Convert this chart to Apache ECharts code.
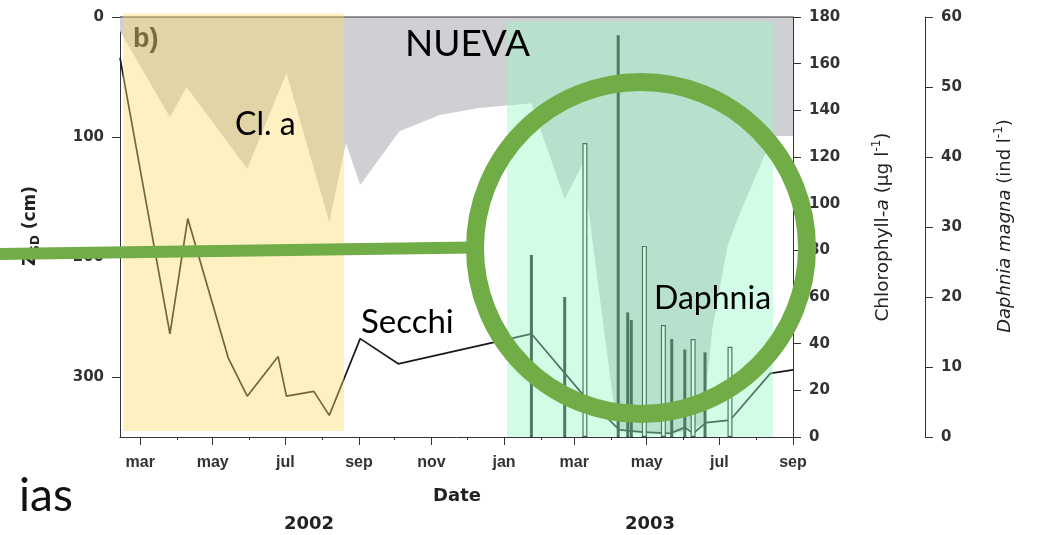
<!DOCTYPE html>
<html><head><meta charset="utf-8">
<script src="https://cdn.jsdelivr.net/npm/echarts@6/dist/echarts.min.js"></script>
<style>html,body{margin:0;padding:0;background:#fff}#c{width:1043px;height:535px}</style>
</head><body><div id="c"></div>
<script>
// ---- data ----
const secchiDates = ['2002-02-12','2002-03-26','2002-04-10','2002-05-14','2002-05-30','2002-06-25','2002-07-02','2002-07-25','2002-08-07','2002-09-02','2002-10-04','2003-01-24','2003-03-06','2003-04-08','2003-04-28','2003-05-21','2003-06-02','2003-06-09','2003-06-20','2003-07-10','2003-08-13','2003-09-01'];
const secchiDepth = [34,264,168,284,316,283,316,312,332,268,289,264,312,344,346,347,342,347,338,336,297,294];
const chlDates = ['2002-02-12','2002-03-26','2002-04-09','2002-05-30','2002-07-02','2002-08-07','2002-08-21','2002-09-02','2002-10-05','2002-11-08','2002-12-11','2003-01-24','2003-02-21','2003-03-08','2003-04-06','2003-04-25','2003-05-29','2003-06-17','2003-06-25','2003-07-08','2003-07-16','2003-08-10','2003-08-16','2003-09-01'];
const chlValues = [174,137,150,115,156,92,126,108,131,138,141,143,102,117,3,2,2,5,46,82,93,123,129,129];
const daphSolidDates = ['2003-01-24','2003-02-21','2003-04-07','2003-04-15','2003-04-18','2003-05-22','2003-06-02','2003-06-19'];
const daphSolidValues = [26,20,57.4,17.8,16.7,14,12.5,12.1];
const daphHollowDates = ['2003-03-10','2003-04-29','2003-05-15','2003-06-09','2003-07-10'];
const daphHollowValues = [42,27.3,16,14,12.9];
const monthTickDates = ['2002-03-01','2002-05-01','2002-07-01','2002-09-01','2002-11-01','2003-01-01','2003-03-01','2003-05-01','2003-07-01','2003-09-01'];
const monthTickLabels = ['mar','may','jul','sep','nov','jan','mar','may','jul','sep'];
const minorTickDates = ['2002-04-01','2002-06-01','2002-08-01','2002-10-01','2002-12-01','2003-02-01','2003-04-01','2003-06-01','2003-08-01'];
const depthTicks = [0,100,200,300];
const xMin = '2002-02-12', xMax = '2003-09-01';

const t = s => Date.parse(s);
const pairs = (d, v) => d.map((s, i) => [t(s), v[i]]);
const majorTs = monthTickDates.map(t);
const minorTs = minorTickDates.map(t);

const AX = '#333';
const yLbl = {fontFamily: 'DejaVu Sans', fontWeight: 'bold', fontSize: 15, color: '#333'};
const xLbl = {fontFamily: 'Liberation Sans', fontWeight: 'bold', fontSize: 16, color: '#333'};
const GREEN = '#70AD47';

const chart = echarts.init(document.getElementById('c'), null, {renderer: 'canvas'});
chart.setOption({
  animation: false,
  backgroundColor: '#fff',
  grid: {left: 120, right: 250, top: 17, bottom: 98, show: false},
  xAxis: [
    {type: 'value', min: t(xMin), max: t(xMax), position: 'bottom',
     axisLine: {show: true, onZero: false, lineStyle: {color: AX, width: 1}},
     axisTick: {show: true, customValues: majorTs, length: 8, lineStyle: {color: AX}},
     axisLabel: Object.assign({show: true, customValues: majorTs, margin: 18,
       formatter: v => monthTickLabels[majorTs.indexOf(v)] || ''}, xLbl),
     splitLine: {show: false}},
    {type: 'value', min: t(xMin), max: t(xMax), position: 'bottom',
     axisLine: {show: false, onZero: false},
     axisTick: {show: true, customValues: minorTs, length: 3, lineStyle: {color: AX}},
     axisLabel: {show: false}, splitLine: {show: false}}
  ],
  yAxis: [
    {type: 'value', inverse: true, min: 0, max: 350, position: 'left',
     axisLine: {show: true, onZero: false, lineStyle: {color: AX}},
     axisTick: {show: true, customValues: depthTicks, length: 8, lineStyle: {color: AX}},
     axisLabel: Object.assign({customValues: depthTicks, margin: 16}, yLbl),
     splitLine: {show: false}},
    {type: 'value', min: 0, max: 180, interval: 20, position: 'right',
     axisLine: {show: true, onZero: false, lineStyle: {color: AX}},
     axisTick: {show: true, length: 8, lineStyle: {color: AX}},
     axisLabel: Object.assign({margin: 16}, yLbl),
     splitLine: {show: false}},
    {type: 'value', min: 0, max: 60, interval: 10, position: 'right', offset: 132,
     axisLine: {show: true, onZero: false, lineStyle: {color: AX}},
     axisTick: {show: true, length: 8, lineStyle: {color: AX}},
     axisLabel: Object.assign({margin: 16}, yLbl),
     splitLine: {show: false}}
  ],
  series: [
    {type: 'line', xAxisIndex: 0, yAxisIndex: 1, data: pairs(chlDates, chlValues),
     symbol: 'none', lineStyle: {width: 0, opacity: 0},
     areaStyle: {color: '#cfd0d3', opacity: 1, origin: 'end'}, z: 1, silent: true},
    {type: 'line', xAxisIndex: 0, yAxisIndex: 0, data: pairs(secchiDates, secchiDepth),
     symbol: 'none', lineStyle: {color: '#1a1a1a', width: 1.7}, z: 3},
    {type: 'bar', xAxisIndex: 0, yAxisIndex: 2, data: pairs(daphSolidDates, daphSolidValues),
     barWidth: 3, itemStyle: {color: '#16221d'}, z: 4},
    {type: 'bar', xAxisIndex: 1, yAxisIndex: 2, data: pairs(daphHollowDates, daphHollowValues),
     barWidth: 5, itemStyle: {color: '#ffffff', borderColor: '#16221d', borderWidth: 1.2}, z: 4}
  ],
  graphic: [
    {type: 'line', z: 90, shape: {x1: 120, y1: 17, x2: 793, y2: 17}, style: {stroke: AX, lineWidth: 1}},
    {type: 'text', z: 91, x: 133, y: 40, style: {text: 'b)', fontFamily: 'Liberation Sans', fontWeight: 'bold', fontSize: 27, fill: '#222', verticalAlign: 'middle'}},
    // overlays
    {type: 'rect', z: 100, shape: {x: 123, y: 13.5, width: 221, height: 417.5}, style: {fill: 'rgba(255,218,102,0.4)'}},
    {type: 'rect', z: 100, shape: {x: 507, y: 21.7, width: 266, height: 415}, style: {fill: 'rgba(150,248,195,0.42)'}},
    // annotation texts
    {type: 'text', z: 110, x: 405, y: 44, style: {text: 'NUEVA', fontFamily: 'Lato', fontSize: 37, fill: '#000', verticalAlign: 'middle'}},
    {type: 'text', z: 110, x: 235, y: 125, style: {text: 'Cl. a', fontFamily: 'Lato', fontSize: 32, fill: '#000', verticalAlign: 'middle'}},
    {type: 'text', z: 110, x: 361, y: 322, style: {text: 'Secchi', fontFamily: 'Lato', fontSize: 33, fill: '#000', verticalAlign: 'middle'}},
    {type: 'text', z: 110, x: 654, y: 299, style: {text: 'Daphnia', fontFamily: 'Lato', fontSize: 32, fill: '#000', verticalAlign: 'middle'}},
    {type: 'text', z: 110, x: 19, y: 496, style: {text: 'ias', fontFamily: 'Lato', fontSize: 46, fill: '#111', verticalAlign: 'middle'}},
    // axis titles
    {type: 'text', z: 95, x: 31, y: 226, rotation: Math.PI / 2, style: {
      text: '{n|Z}{s|SD}{n| (cm)}', align: 'center', verticalAlign: 'middle',
      rich: {n: {fontFamily: 'DejaVu Sans', fontWeight: 'bold', fontSize: 17, fill: '#222', lineHeight: 22},
             s: {fontFamily: 'DejaVu Sans', fontWeight: 'bold', fontSize: 12, fill: '#222', verticalAlign: 'bottom', lineHeight: 22}}}},
    {type: 'text', z: 95, x: 883, y: 227, rotation: Math.PI / 2, style: {
      text: '{n|Chlorophyll-}{i|a}{n| (µg l}{u|-1}{n|)}', align: 'center', verticalAlign: 'middle',
      rich: {n: {fontFamily: 'DejaVu Sans', fontSize: 18.5, fill: '#222', lineHeight: 25},
             i: {fontFamily: 'DejaVu Sans', fontStyle: 'italic', fontSize: 18.5, fill: '#222', lineHeight: 25},
             u: {fontFamily: 'DejaVu Sans', fontSize: 12, fill: '#222', verticalAlign: 'top', lineHeight: 25}}}},
    {type: 'text', z: 95, x: 1005, y: 226, rotation: Math.PI / 2, style: {
      text: '{i|Daphnia magna}{n| (ind l}{u|-1}{n|)}', align: 'center', verticalAlign: 'middle',
      rich: {n: {fontFamily: 'DejaVu Sans', fontSize: 18, fill: '#222', lineHeight: 25},
             i: {fontFamily: 'DejaVu Sans', fontStyle: 'italic', fontSize: 18, fill: '#222', lineHeight: 25},
             u: {fontFamily: 'DejaVu Sans', fontSize: 12, fill: '#222', verticalAlign: 'top', lineHeight: 25}}}},
    {type: 'text', z: 95, x: 457, y: 496, style: {text: 'Date', align: 'center', verticalAlign: 'middle', fontFamily: 'DejaVu Sans', fontWeight: 'bold', fontSize: 18, fill: '#222'}},
    {type: 'text', z: 95, x: 309, y: 524, style: {text: '2002', align: 'center', verticalAlign: 'middle', fontFamily: 'DejaVu Sans', fontWeight: 'bold', fontSize: 18, fill: '#222'}},
    {type: 'text', z: 95, x: 650, y: 524, style: {text: '2003', align: 'center', verticalAlign: 'middle', fontFamily: 'DejaVu Sans', fontWeight: 'bold', fontSize: 18, fill: '#222'}},
    // green annotation shapes
    {type: 'line', z: 120, shape: {x1: 0, y1: 254, x2: 472, y2: 247.5}, style: {stroke: GREEN, lineWidth: 12}},
    {type: 'circle', z: 121, shape: {cx: 641, cy: 248, r: 166}, style: {fill: 'none', stroke: GREEN, lineWidth: 18}}
  ]
});
</script>
</body></html>
